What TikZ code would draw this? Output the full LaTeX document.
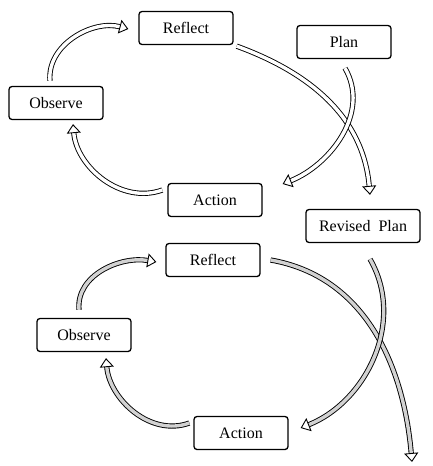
\documentclass[tikz,border=0pt]{standalone}
\usepackage{fontspec}
\setmainfont{Liberation Serif}
\usetikzlibrary{arrows.meta,calc}

\tikzset{
  stage/.style={draw, line width=1.3pt, rounded corners=3pt, minimum width=94pt,
    minimum height=33pt, inner sep=2pt, font=\fontsize{16}{18}\selectfont},
  curvarr/.style={line width=0.9pt, double=white, double distance=3.4pt,
    -{Triangle[open, width=14pt, length=9pt, line width=0.9pt]}},
  shadearr/.style={curvarr, double=gray!35}
}

\begin{document}
\begin{tikzpicture}[x=1pt, y=-1pt]
  \useasboundingbox (0,0) rectangle (433,466);

  % first cycle
  \node[stage] (ref1) at (186,28) {Reflect};
  \node[stage] (plan1) at (344,42) {Plan};
  \node[stage] (obs1) at (56,103) {Observe};
  \node[stage] (act1) at (215,200) {Action};
  \node[stage, minimum width=114pt] (rev1) at (363,226) {Revised\ \ Plan};

  \draw[curvarr] ($(obs1.north)+(-6,-5)$) to[out=95, in=165] ($(ref1.west)+(-10,1)$);
  \draw[curvarr] ($(act1.west)+(-5,-10)$) to[out=200, in=-85] ($(obs1.south)+(17,4)$);
  \draw[curvarr] ($(ref1.south east)+(3,1)$) to[out=-20, in=95] ($(rev1.north)+(7,-14)$);
  \draw[curvarr] ($(plan1.south)+(1,9)$) to[out=-60, in=22] ($(act1.east)+(20,-16)$);

  % second cycle
  \node[stage] (ref2) at (213,260) {Reflect};
  \node[stage] (obs2) at (84,335) {Observe};
  \node[stage] (act2) at (241,433) {Action};
  \coordinate (out2) at (412,462);

  \draw[shadearr] ($(obs2.north)+(-5,-8)$) to[out=95, in=170] ($(ref2.west)+(-9,2)$);
  \draw[shadearr] ($(act2.west)+(-4,-10)$) to[out=200, in=-85] ($(obs2.south)+(22,6)$);
  \draw[shadearr] ($(ref2.east)+(10,0)$) to[out=-10, in=95] (out2);
  \draw[shadearr] ($(rev1.south)+(7,16)$) to[out=-60, in=22] ($(act2.east)+(12,-5)$);
\end{tikzpicture}
\end{document}
